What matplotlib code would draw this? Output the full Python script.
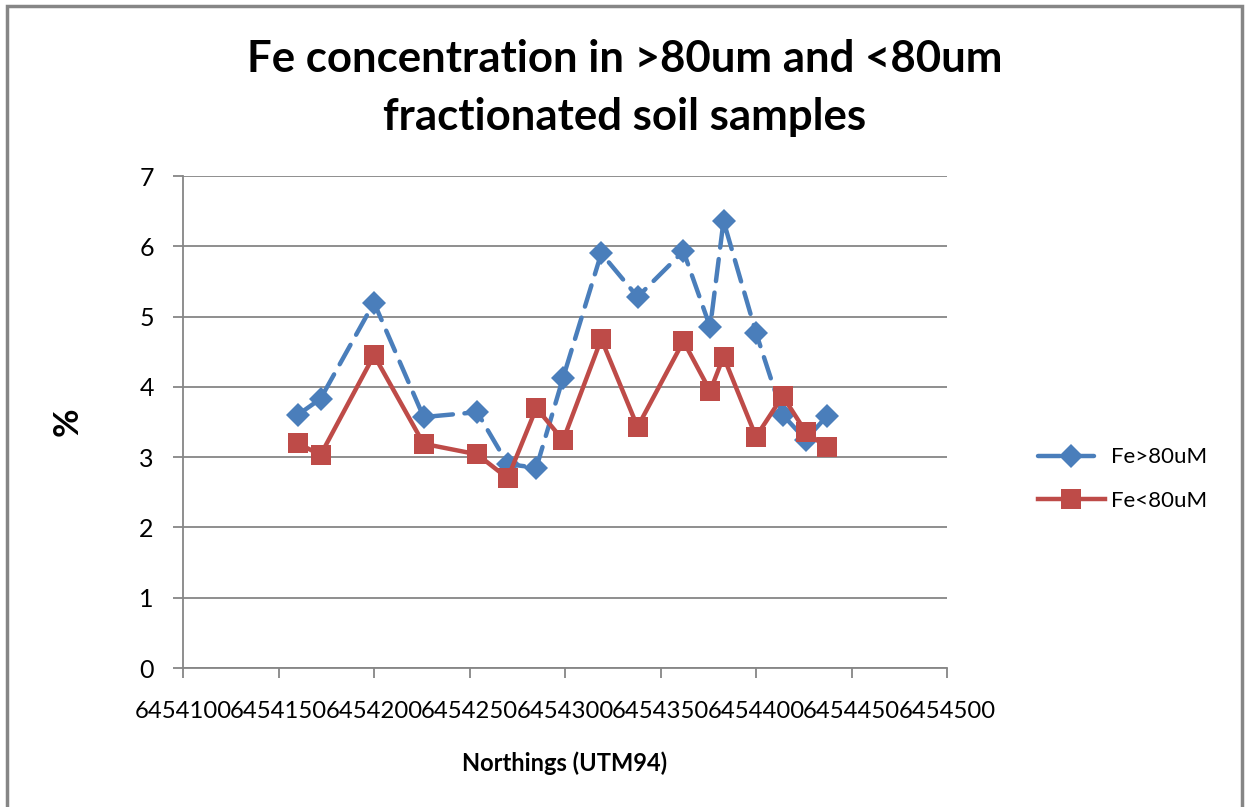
import matplotlib
matplotlib.use("Agg")
import matplotlib.pyplot as plt
from matplotlib.patches import Rectangle

northing = [6454160, 6454172, 6454200, 6454226, 6454254, 6454270, 6454285, 6454299,
            6454319, 6454338, 6454362, 6454376, 6454383, 6454400, 6454414, 6454426, 6454437]
fe_gt80 = [3.60, 3.83, 5.20, 3.57, 3.64, 2.90, 2.85, 4.13,
           5.90, 5.28, 5.93, 4.85, 6.36, 4.77, 3.60, 3.25, 3.58]
fe_lt80 = [3.20, 3.03, 4.45, 3.19, 3.04, 2.70, 3.70, 3.24,
           4.68, 3.43, 4.65, 3.94, 4.43, 3.29, 3.87, 3.36, 3.14]
x_ticks = list(range(6454100, 6454501, 50))
y_ticks = list(range(0, 8))

plt.rcParams['font.family'] = ['Lato', 'DejaVu Sans']

fig = plt.figure(figsize=(12.51, 8.07), dpi=100)
W, H = 1251, 807
ax = fig.add_axes([183 / W, 1 - 668 / H, (947 - 183) / W, (668 - 176) / H])

grey = '#868686'
blue = '#4A7EBB'
red = '#BE4B48'

ax.plot(northing, fe_gt80, color=blue, lw=3.2, ls=(0, (5, 2.6)), marker='D',
        markersize=12, markeredgewidth=0, dash_capstyle='round', label='Fe>80uM', zorder=3)
ax.plot(northing, fe_lt80, color=red, lw=3.2, ls='-', marker='s',
        markersize=14, markeredgewidth=0, label='Fe<80uM', zorder=4)

ax.set_xlim(6454100, 6454500)
ax.set_ylim(0, 7)
ax.set_xticks(x_ticks)
ax.set_xticklabels([str(v) for v in x_ticks])
ax.set_yticks(y_ticks)
ax.grid(axis='y', color=grey, lw=1.3)
ax.set_axisbelow(True)
for s in ['top', 'right']:
    ax.spines[s].set_visible(False)
for s in ['left', 'bottom']:
    ax.spines[s].set_color(grey)
    ax.spines[s].set_linewidth(1.3)
ax.tick_params(axis='both', colors=grey, length=7, width=1.3, labelcolor='black')
ax.tick_params(axis='x', pad=17, labelsize=17.2)
ax.tick_params(axis='y', pad=14, labelsize=18)

fig.text(625 / W, 1 - 88 / H, 'Fe concentration in >80um and <80um\nfractionated soil samples',
         ha='center', va='center', fontsize=31.5, fontweight='bold', linespacing=1.55)
fig.text(68 / W, 1 - 422 / H, '%', rotation=90, ha='center', va='center',
         fontsize=25, fontweight='bold')
fig.text(565 / W, 1 - 763 / H, 'Northings (UTM94)', ha='center', va='center',
         fontsize=17, fontweight='bold')

leg = fig.legend(loc='center left', bbox_to_anchor=(1018 / W, 1 - 479 / H), frameon=False,
                 fontsize=16, handlelength=3.0, handletextpad=0.3, labelspacing=1.05)

fig.patches.append(Rectangle((7 / W, -0.05), (1242 - 7) / W, 1.05 - 6 / H,
                             transform=fig.transFigure, fill=False, ec=grey, lw=2.5))

fig.savefig('out.png', dpi=100)
